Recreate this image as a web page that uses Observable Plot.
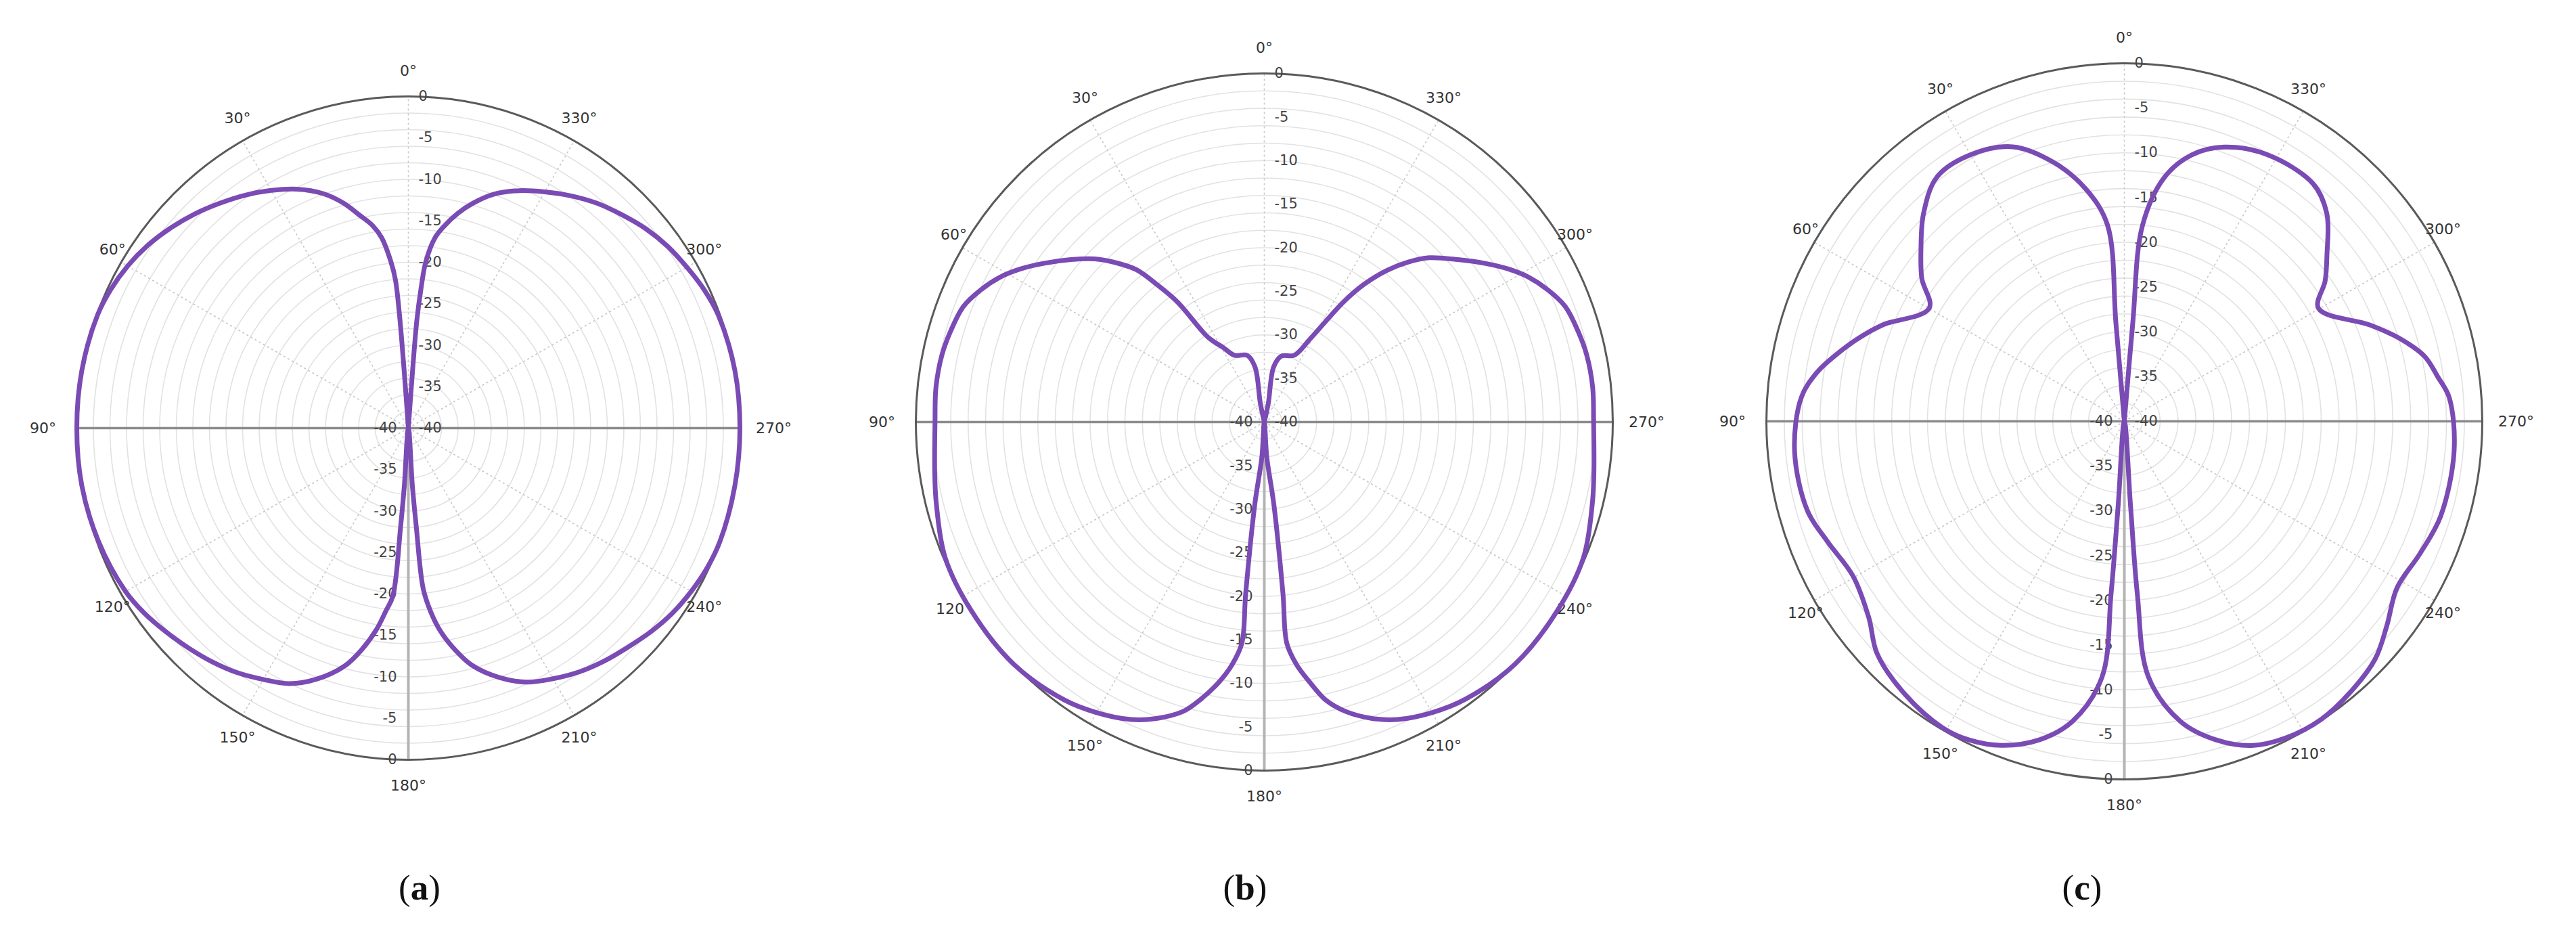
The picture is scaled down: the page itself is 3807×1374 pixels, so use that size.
<!DOCTYPE html>
<html>
<head>
<meta charset="utf-8">
<script src="https://cdn.jsdelivr.net/npm/d3@7"></script>
<script src="https://cdn.jsdelivr.net/npm/@observablehq/plot@0.6"></script>
<style>
  html, body { margin: 0; padding: 0; background: #fff; }
  body { width: 3807px; height: 1374px; position: relative; overflow: hidden; }
  .panel { position: absolute; }
  .cap { position: absolute; font-family: "Liberation Serif", "DejaVu Serif", serif; font-size: 53px; color: #111; transform: translate(-50%, -50%); white-space: nowrap; }
</style>
</head>
<body>
<script>
// ---- axis definitions ----
const angleTicks = [0, 30, 60, 90, 120, 150, 180, 210, 240, 270, 300, 330];
const radialTicks = [0, -5, -10, -15, -20, -25, -30, -35];
const centerTick = -40;
const ringLevels = [-38, -36, -34, -32, -30, -28, -26, -24, -22, -20, -18, -16, -14, -12, -10, -8, -6, -4, -2];
const spokeAngles = [30, 60, 120, 150, 210, 240, 300, 330];

// ---- radiation patterns: [angle (deg, counter-clockwise from top), gain (dB)] ----
const patternA = [
  [0, -40], [4.2, -33], [4.5, -26], [5, -22], [6, -19.8], [8, -16.8], [10, -15.2], [13, -13.6], [16, -11.8],
  [20, -9.9], [25, -8.2], [30, -6.9], [35, -5.7], [40, -4.6], [45, -3.5], [50, -2.5], [55, -1.6], [60, -0.9],
  [65, -0.4], [70, -0.1], [80, 0], [90, 0], [100, 0], [110, -0.2], [120, -0.6], [125, -1.1], [130, -1.8],
  [135, -2.5], [140, -3.2], [145, -4.0], [150, -5.0], [155, -6.0], [160, -7.8], [165, -10.3], [168, -12.6],
  [171, -15.4], [173, -17.8], [174.7, -19.6], [175.5, -28], [176, -33], [180, -40],
  [184, -33], [184.6, -28], [185.3, -20.5], [187, -17.6], [189, -15.2], [192, -12.6], [195, -10.4], [200, -8.0],
  [205, -6.2], [210, -5.1], [215, -4.1], [220, -3.3], [225, -2.6], [230, -1.8], [235, -1.1], [240, -0.6],
  [245, -0.2], [250, 0], [260, 0], [270, 0], [280, 0], [290, -0.2], [295, -0.6], [300, -1.2], [305, -1.8],
  [310, -2.6], [315, -3.6], [320, -4.6], [325, -5.8], [330, -7.1], [335, -8.4], [340, -10.0], [344, -11.8],
  [347, -13.4], [350, -15.3], [352, -16.8], [354, -19.8], [354.8, -23], [355.5, -27], [355.8, -33], [360, -40]
];

const patternB = [
  [0, -40], [12, -37.8], [9.6, -33.6], [14.4, -32.1], [24.2, -31.6], [29, -30.2], [33.5, -28.4], [35.9, -23.0],
  [38, -20.0], [40, -17.2], [43, -15.0], [46.1, -13.0], [50, -11.0], [54.3, -8.8], [58, -6.9], [61.3, -5.4],
  [65, -4.1], [69, -3.0], [74, -2.5], [78.3, -2.2], [84, -2.1], [90, -2.2], [99, -1.7], [104, -1.2], [113, -0.2],
  [122.8, 0], [134, 0], [144.2, -0.7], [150, -1.5], [155.9, -2.6], [160, -3.8], [164.3, -5.5], [167, -7.3],
  [170.1, -9.7], [172.5, -12.0], [174.2, -14.5], [173.8, -20.2], [173.4, -30.5], [176, -36], [180, -40],
  [184, -36], [186.6, -30.5], [186.2, -20.2], [185.8, -14.5], [187.5, -12.0], [189.9, -9.7], [192.5, -7.3],
  [195.7, -5.5], [200, -3.8], [204.1, -2.6], [210, -1.5], [216, -0.7], [226, 0], [237.2, 0], [247, -0.2],
  [256, -1.2], [261, -1.7], [270, -2.2], [276, -2.1], [281.7, -2.2], [286, -2.5], [291, -3.0], [295, -4.1],
  [298.7, -5.4], [302, -6.9], [305.7, -8.8], [310, -11.0], [314.9, -13.3], [318, -15.3], [321, -17.6],
  [324.1, -20.5], [326.6, -23.5], [331, -29.0], [335.8, -31.6], [345.6, -32.2], [350.4, -33.6], [348, -37.8],
  [360, -40]
];

const patternC = [
  [0, -40], [4.9, -29], [4.9, -18], [9.4, -13.7], [15.3, -10], [22.1, -6.9], [30.2, -5.6], [37.5, -5.6],
  [44, -7.7], [49.7, -10.2], [54.8, -12.3], [59.9, -14.8], [68.3, -10.9], [72.6, -8.9], [77.3, -6.8],
  [81, -5.2], [85.8, -3.8], [95.2, -3.0], [105.7, -3.2], [112, -4.2], [119.7, -5.1], [127.5, -4.0],
  [133.2, -2.1], [141, -0.9], [149.3, -0.2], [154, -0.4], [159.3, -1.3], [165.1, -3.2], [170.2, -6.0],
  [175, -11.3], [175.6, -20.7], [175.8, -30.7], [180, -40],
  [184.2, -30.7], [184.3, -20.7], [185.4, -11.3], [190.6, -5.9], [196, -3.0], [201.4, -1.1], [207, -0.3],
  [213.5, -0.1], [220, -0.6], [226.6, -1.4], [232, -2.8], [238.6, -4.3], [246, -3.8], [253.3, -3.1],
  [264.9, -3.0], [274.2, -3.6], [278, -4.6], [282.3, -5.7], [287, -8.0], [291.4, -10.5], [300.2, -14.9],
  [305, -12.6], [309.4, -10.7], [315.7, -7.6], [321.5, -6.1], [331.8, -6.2], [340, -7.4], [345.8, -9.3],
  [350.7, -12.4], [354.7, -18], [355.1, -29], [360, -40]
];

const captions = ["a", "b", "c"];

// ---- layout (pixels) ----
const panels = [
  { data: patternA, cx: 603, cy: 632, R: 490, capX: 620, capY: 1311, cap: captions[0] },
  { data: patternB, cx: 1868, cy: 623, R: 515, capX: 1840, capY: 1311, cap: captions[1] },
  { data: patternC, cx: 3139, cy: 622, R: 529, capX: 3077, capY: 1311, cap: captions[2] }
];

const rad = Math.PI / 180;
const px = (theta, rho) => -rho * Math.sin(theta * rad);
const py = (theta, rho) => rho * Math.cos(theta * rad);

function makePanel(p) {
  const m = 110;
  const size = 2 * p.R + 2 * m;
  const k = p.R / 40; // pixels per dB
  // label offsets (px) outside the outer circle
  const offX = (theta) => (Math.abs(Math.sin(theta * rad)) > 0.95 ? 50 : 15);
  const offY = 38;
  const lx = (theta) => -((p.R + offX(theta)) / k) * Math.sin(theta * rad);
  const ly = (theta) => ((p.R + offY) / k) * Math.cos(theta * rad);
  const chart = Plot.plot({
    width: size,
    height: size,
    margin: 0,
    style: { fontFamily: "DejaVu Sans, sans-serif", background: "transparent", overflow: "visible" },
    x: { domain: [-40, 40], range: [m, m + 2 * p.R], axis: null },
    y: { domain: [-40, 40], range: [m + 2 * p.R, m], axis: null },
    r: { type: "identity" },
    marks: [
      // rings
      Plot.dot(ringLevels, { x: () => 0, y: () => 0, r: d => (d + 40) * k, stroke: "#e2e2e2", strokeWidth: 1.6, fill: "none" }),
      // spokes
      Plot.link(spokeAngles, { x1: () => 0, y1: () => 0, x2: d => px(d, 40), y2: d => py(d, 40), stroke: "#c8c8c8", strokeWidth: 1.6, strokeDasharray: "3,4" }),
      Plot.link([0], { x1: () => 0, y1: () => 0, x2: d => px(d, 40), y2: d => py(d, 40), stroke: "#c8c8c8", strokeWidth: 1.6, strokeDasharray: "3,4" }),
      Plot.link([180], { x1: () => 0, y1: () => 0, x2: d => px(d, 40), y2: d => py(d, 40), stroke: "#b4b4b4", strokeWidth: 4 }),
      Plot.link([[90, 270]], { x1: d => px(d[0], 40), y1: d => py(d[0], 40), x2: d => px(d[1], 40), y2: d => py(d[1], 40), stroke: "#8c8c8c", strokeWidth: 3.5 }),
      // outer circle
      Plot.dot([0], { x: () => 0, y: () => 0, r: () => p.R, stroke: "#5a5a5a", strokeWidth: 3, fill: "none" }),
      // radial labels (top half, right of axis)
      Plot.text(radialTicks, { x: () => 0, y: d => d + 40, text: d => String(d), dx: 15, textAnchor: "start", fontSize: 21, fill: "#444" }),
      // radial labels (bottom half, left of axis)
      Plot.text(radialTicks, { x: () => 0, y: d => -(d + 40), text: d => String(d), dx: -17, textAnchor: "end", fontSize: 21, fill: "#444" }),
      Plot.text([centerTick], { x: () => 0, y: () => 0, text: d => String(d), dx: 15, textAnchor: "start", fontSize: 21, fill: "#444" }),
      Plot.text([centerTick], { x: () => 0, y: () => 0, text: d => String(d), dx: -17, textAnchor: "end", fontSize: 21, fill: "#444" }),
      // angle labels
      Plot.text(angleTicks, { x: d => lx(d), y: d => ly(d), text: d => d + "°", fontSize: 22, fill: "#333", textAnchor: "middle" }),
      // pattern
      Plot.line(p.data, { x: d => px(d[0], d[1] + 40), y: d => py(d[0], d[1] + 40), stroke: "#7a4bb4", strokeWidth: 7, curve: "catmull-rom", strokeLinejoin: "round" })
    ]
  });
  const div = document.createElement("div");
  div.className = "panel";
  div.style.left = (p.cx - p.R - m) + "px";
  div.style.top = (p.cy - p.R - m) + "px";
  div.appendChild(chart);
  document.body.appendChild(div);

  const cap = document.createElement("div");
  cap.className = "cap";
  cap.style.left = p.capX + "px";
  cap.style.top = p.capY + "px";
  cap.innerHTML = "(<b>" + p.cap + "</b>)";
  document.body.appendChild(cap);
}

panels.forEach(makePanel);
</script>
</body>
</html>
